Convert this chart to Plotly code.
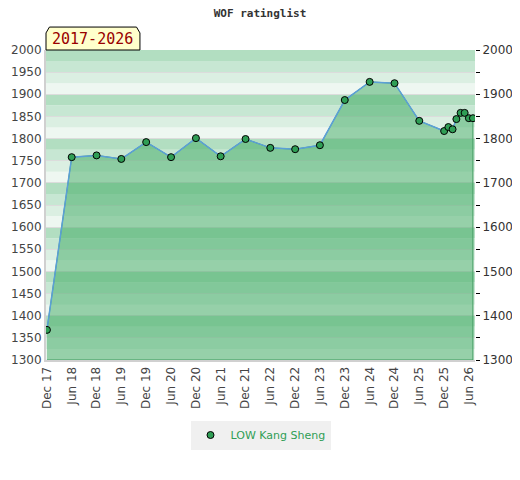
import plotly.graph_objects as go

# rating history (1st of month)
dates = [
    "2017-12-01", "2018-06-01", "2018-12-01", "2019-06-01", "2019-12-01",
    "2020-06-01", "2020-12-01", "2021-06-01", "2021-12-01", "2022-06-01",
    "2022-12-01", "2023-06-01", "2023-12-01", "2024-06-01", "2024-12-01",
    "2025-06-01", "2025-12-01", "2026-01-01", "2026-02-01", "2026-03-01",
    "2026-04-01", "2026-05-01", "2026-06-01", "2026-07-01",
]
ratings = [
    1368, 1758, 1762, 1754, 1792, 1758, 1801, 1760, 1799, 1779,
    1776, 1785, 1887, 1928, 1925, 1840, 1817, 1826, 1821, 1844,
    1858, 1858, 1846, 1846,
]

tick_dates = [
    "2017-12-01", "2018-06-01", "2018-12-01", "2019-06-01", "2019-12-01",
    "2020-06-01", "2020-12-01", "2021-06-01", "2021-12-01", "2022-06-01",
    "2022-12-01", "2023-06-01", "2023-12-01", "2024-06-01", "2024-12-01",
    "2025-06-01", "2025-12-01", "2026-06-01",
]
tick_text = [
    "Dec 17", "Jun 18", "Dec 18", "Jun 19", "Dec 19", "Jun 20", "Dec 20",
    "Jun 21", "Dec 21", "Jun 22", "Dec 22", "Jun 23", "Dec 23", "Jun 24",
    "Dec 24", "Jun 25", "Dec 25", "Jun 26",
]

player = "LOW Kang Sheng"
period = "2017-2026"

Y_MIN, Y_MAX = 1300, 2000
X_RANGE = ["2017-11-24", "2026-07-16"]

FONT = "DejaVu Sans"
MONO = "DejaVu Sans Mono"
STRIPES = ["#eef7f1", "#dbefe2", "#c7e7d3", "#b2dec1"]  # bottom -> top of each 100 block

fig = go.Figure()

# filled area under the line, closed down to the axis floor
fig.add_trace(go.Scatter(
    x=dates + [dates[-1], dates[0]],
    y=ratings + [Y_MIN, Y_MIN],
    fill="toself",
    fillcolor="rgba(61, 170, 97, 0.5)",
    mode="lines",
    line=dict(color="#3d9a5c", width=1),
    hoverinfo="skip",
    showlegend=False,
))

fig.add_trace(go.Scatter(
    x=dates, y=ratings,
    mode="lines",
    line=dict(color="#5b9fd8", width=1.5),
    yaxis="y2",
    hoverinfo="skip",
    showlegend=False,
))

fig.add_trace(go.Scatter(
    x=dates, y=ratings,
    name=player,
    mode="markers",
    marker=dict(color="#2f9e55", size=7, line=dict(color="black", width=1)),
    yaxis="y2",
))

# striped background
shapes = []
for base in range(Y_MIN, Y_MAX, 100):
    for i, col in enumerate(STRIPES):
        shapes.append(dict(
            type="rect", xref="paper", yref="y", layer="below",
            x0=0, x1=1, y0=base + 25 * i, y1=base + 25 * (i + 1),
            fillcolor=col, line=dict(width=0),
        ))

# yellow period tab above the plot
shapes.append(dict(
    type="path", xref="paper", yref="paper",
    path="M 0,1 L 0,1.055 L 0.008,1.074 L 0.211,1.074 L 0.219,1.055 L 0.219,1 Z",
    fillcolor="#ffffcc", line=dict(color="black", width=1),
))

# page body adds an 8px offset, so margins are shifted to compensate
fig.update_layout(
    width=520, height=480,
    margin=dict(l=38, r=53, t=42, b=128, autoexpand=False),
    paper_bgcolor="white",
    plot_bgcolor="white",
    font=dict(family=FONT, size=12, color="#444"),
    title=dict(
        text="<b>WOF ratinglist</b>",
        font=dict(family=MONO, size=11, color="#333"),
        x=(260 - 8) / 520, xanchor="center", y=1 - 5 / 480, yanchor="middle",
    ),
    xaxis=dict(
        type="date", range=X_RANGE, automargin=False,
        tickvals=tick_dates, ticktext=tick_text, tickangle=-90,
        showgrid=False, showline=True, linecolor="#d0d0d0", linewidth=2,
        ticks="", tickfont=dict(size=12, color="#444"),
    ),
    yaxis=dict(
        range=[Y_MIN, Y_MAX], dtick=50, automargin=False,
        showgrid=True, gridcolor="#dcdcdc", gridwidth=1,
        showline=True, linecolor="#d0d0d0", linewidth=2,
        zeroline=False, ticks="", tickfont=dict(size=12, color="#444"),
    ),
    yaxis2=dict(
        range=[Y_MIN, Y_MAX], dtick=100, overlaying="y", side="right",
        automargin=False, showgrid=False, zeroline=False,
        ticks="outside", ticklen=4, tickcolor="black",
        minor=dict(dtick=50, ticks="outside", ticklen=4, tickcolor="black"),
        tickfont=dict(size=12, color="#333"),
    ),
    shapes=shapes,
    annotations=[dict(
        text=period, xref="paper", yref="paper",
        x=0.1095, y=1.037, xanchor="center", yanchor="middle",
        showarrow=False,
        font=dict(family=MONO, size=15, color="#990000"),
    )],
    legend=dict(
        orientation="h", x=0.5, xanchor="center", y=-0.242, yanchor="middle",
        bgcolor="#f0f0f0", font=dict(size=11, color="#2f9e55"),
    ),
    hovermode="closest",
)

fig.write_html("out.html")
